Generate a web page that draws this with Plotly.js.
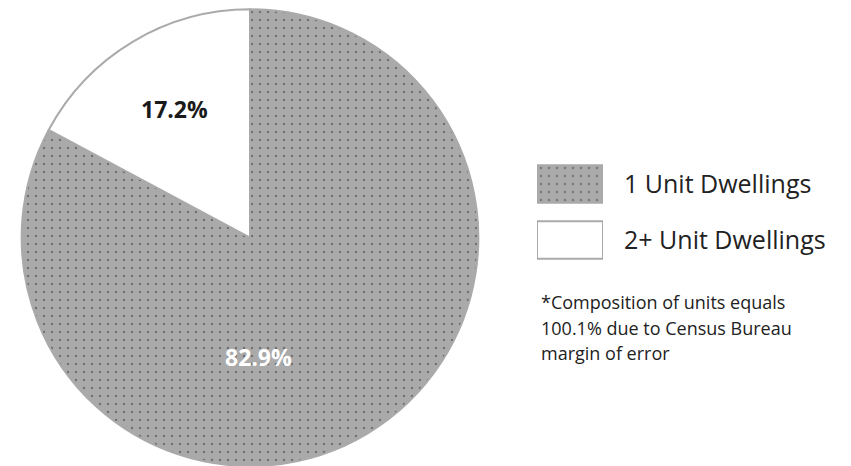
<!DOCTYPE html>
<html>
<head>
<meta charset="utf-8">
<script src="https://cdn.plot.ly/plotly-3.0.1.min.js"></script>
<style>html,body{margin:0;padding:0;background:#fff;}#chart{width:851px;height:466px;}</style>
</head>
<body>
<div id="chart"></div>
<script>
const labels = ['1 Unit Dwellings', '2+ Unit Dwellings'];
const values = [82.9, 17.2];
const sliceColors = ['#aaaaaa', '#ffffff'];
const labelColors = ['#ffffff', '#1a1a1a'];
const footnote = ['*Composition of units equals', '100.1% due to Census Bureau', 'margin of error'];

const FONT = '"Open Sans", sans-serif';

const patternFor = (colors) => ({
  shape: colors.map(c => c === '#ffffff' ? '' : '.'),
  fillmode: 'overlay',
  fgcolor: '#3a3a3a',
  size: 8,
  solidity: 0.08
});

const pie = {
  type: 'pie',
  labels: labels,
  values: values,
  sort: false,
  direction: 'clockwise',
  rotation: 0,
  textinfo: 'none',
  hoverinfo: 'none',
  showlegend: false,
  domain: {x: [20/851, 480/851], y: [0, 0.98]},
  marker: {
    colors: sliceColors,
    line: {color: '#aaaaaa', width: 2},
    pattern: patternFor(sliceColors)
  }
};

// legend swatches drawn as a small bar chart
const revColors = sliceColors.slice().reverse();
const legendBars = {
  type: 'bar',
  orientation: 'h',
  y: labels.slice().reverse(),
  x: labels.map(() => 1),
  xaxis: 'x2',
  yaxis: 'y2',
  hoverinfo: 'none',
  showlegend: false,
  marker: {
    color: revColors,
    line: {color: '#aaaaaa', width: 2},
    pattern: patternFor(revColors)
  }
};

const annotations = values.map((v, i) => ({
  text: '<b>' + v.toFixed(1) + '%</b>',
  xref: 'paper', yref: 'paper',
  x: [258/851, 174/851][i], y: [1 - 357/466, 1 - 109/466][i],
  xanchor: 'center', yanchor: 'middle',
  showarrow: false,
  font: {family: FONT, size: 23, color: labelColors[i]}
}));

footnote.forEach((line, i) => {
  annotations.push({
    text: line,
    xref: 'paper', yref: 'paper',
    x: 539/851, y: 1 - (302 + i * 25.5)/466,
    xanchor: 'left', yanchor: 'middle',
    showarrow: false,
    font: {family: FONT, size: 18, color: '#222222'}
  });
});

const layout = {
  width: 851, height: 466,
  margin: {l: 0, r: 0, t: 0, b: 0},
  paper_bgcolor: '#ffffff',
  plot_bgcolor: 'rgba(0,0,0,0)',
  bargap: 0.33,
  xaxis2: {domain: [537/851, 603/851], range: [0, 1], visible: false, fixedrange: true, anchor: 'y2'},
  yaxis2: {domain: [1 - 268/466, 1 - 156/466], anchor: 'x2', side: 'right', showgrid: false, zeroline: false,
           showline: false, ticks: '', ticklabelstandoff: 20,
           tickfont: {family: FONT, size: 25, color: '#222222'}, fixedrange: true},
  annotations: annotations
};

Plotly.newPlot('chart', [pie, legendBars], layout, {displayModeBar: false, staticPlot: true});
</script>
</body>
</html>
